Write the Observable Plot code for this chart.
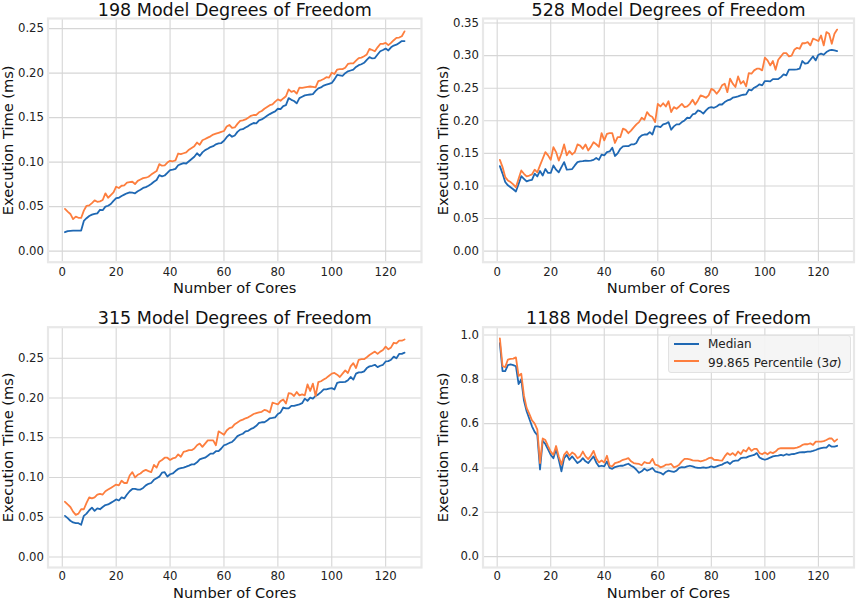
<!DOCTYPE html>
<html>
<head>
<meta charset="utf-8">
<script src="https://cdn.jsdelivr.net/npm/d3@7"></script>
<script src="https://cdn.jsdelivr.net/npm/@observablehq/plot@0.6"></script>
<style>
  body { margin: 0; background: #fff; }
  #fig { position: relative; width: 858px; height: 601px; overflow: hidden; background: #fff; font-family: "DejaVu Sans", sans-serif; }
  .panel { position: absolute; }
  .legend { position: absolute; left: 668px; top: 335px; width: 181px; height: 36px; background: rgba(244,244,244,0.9); border: 1px solid #e2e2e2; border-radius: 3px; }
  .legend .h { position: absolute; left: 5px; width: 25px; height: 2px; }
  .legend .t { position: absolute; left: 39px; font-size: 12px; line-height: 12px; color: #222; white-space: nowrap; }
</style>
</head>
<body>
<div id="fig"></div>
<script>
const cores = d3.range(1, 128);

const xTicks = [0, 20, 40, 60, 80, 100, 120];
const titles = ["198 Model Degrees of Freedom", "528 Model Degrees of Freedom", "315 Model Degrees of Freedom", "1188 Model Degrees of Freedom"];
const yTicks1 = [0, 0.05, 0.10, 0.15, 0.20, 0.25];
const yTicks2 = [0, 0.05, 0.10, 0.15, 0.20, 0.25, 0.30, 0.35];
const yTicks3 = [0, 0.05, 0.10, 0.15, 0.20, 0.25];
const yTicks4 = [0, 0.2, 0.4, 0.6, 0.8, 1.0];
const seriesNames = ["Median", "99.865 Percentile (3σ)"];

const p1Median = [
0.0213,0.0225,0.0228,0.0230,0.0230,0.0231,0.0232,0.0340,0.0370,0.0395,
0.0410,0.0420,0.0425,0.0465,0.0460,0.0500,0.0510,0.0530,0.0565,0.0597,
0.0600,0.0620,0.0635,0.0650,0.0660,0.0657,0.0650,0.0672,0.0690,0.0710,
0.0720,0.0735,0.0755,0.0780,0.0800,0.0854,0.0840,0.0850,0.0880,0.0910,
0.0915,0.0925,0.0965,0.0978,0.0990,0.0985,0.1010,0.1035,0.1060,0.1100,
0.1070,0.1110,0.1135,0.1150,0.1170,0.1180,0.1200,0.1210,0.1215,0.1240,
0.1280,0.1310,0.1285,0.1300,0.1340,0.1365,0.1370,0.1390,0.1405,0.1425,
0.1440,0.1435,0.1470,0.1480,0.1500,0.1520,0.1540,0.1556,0.1570,0.1600,
0.1595,0.1630,0.1640,0.1720,0.1700,0.1687,0.1660,0.1720,0.1735,0.1750,
0.1755,0.1760,0.1765,0.1800,0.1830,0.1840,0.1860,0.1870,0.1880,0.1890,
0.1930,0.1980,0.1975,0.1970,0.2000,0.2020,0.2030,0.2040,0.2070,0.2090,
0.2100,0.2116,0.2150,0.2180,0.2165,0.2170,0.2210,0.2246,0.2260,0.2276,
0.2255,0.2290,0.2310,0.2320,0.2340,0.2360,0.2360];
const p1Pct = [
0.0474,0.0445,0.0418,0.0360,0.0388,0.0375,0.0373,0.0455,0.0510,0.0515,
0.0540,0.0570,0.0555,0.0560,0.0575,0.0650,0.0600,0.0630,0.0660,0.0724,
0.0710,0.0735,0.0740,0.0770,0.0775,0.0780,0.0754,0.0790,0.0805,0.0820,
0.0825,0.0836,0.0860,0.0880,0.0900,0.0978,0.0960,0.0965,0.0995,0.1015,
0.1010,0.1020,0.1097,0.1090,0.1100,0.1110,0.1140,0.1160,0.1180,0.1220,
0.1195,0.1246,0.1260,0.1276,0.1290,0.1310,0.1320,0.1330,0.1340,0.1350,
0.1400,0.1418,0.1385,0.1390,0.1430,0.1463,0.1470,0.1480,0.1500,0.1520,
0.1530,0.1530,0.1560,0.1575,0.1600,0.1620,0.1640,0.1650,0.1680,0.1705,
0.1690,0.1716,0.1740,0.1817,0.1790,0.1800,0.1770,0.1836,0.1835,0.1840,
0.1845,0.1850,0.1845,0.1840,0.1910,0.1920,0.1935,0.1955,0.1950,0.2004,
0.1990,0.2040,0.2045,0.2045,0.2060,0.2104,0.2110,0.2110,0.2140,0.2170,
0.2175,0.2190,0.2210,0.2272,0.2260,0.2246,0.2290,0.2328,0.2330,0.2340,
0.2315,0.2340,0.2370,0.2396,0.2400,0.2414,0.2470];

const p2Median = [
0.1305,0.119,0.106,0.101,0.098,0.095,0.0916,0.103,0.115,0.111,
0.107,0.1085,0.1095,0.119,0.1146,0.123,0.116,0.126,0.120,0.120,
0.1315,0.125,0.121,0.129,0.1366,0.125,0.1254,0.126,0.1315,0.1366,
0.1377,0.138,0.139,0.1385,0.139,0.140,0.143,0.140,0.148,0.147,
0.152,0.153,0.1586,0.146,0.150,0.157,0.1607,0.161,0.161,0.1637,
0.1637,0.166,0.174,0.1776,0.179,0.179,0.1827,0.179,0.1914,0.1914,
0.1904,0.1945,0.1955,0.198,0.1863,0.1914,0.1945,0.1945,0.198,0.2006,
0.2047,0.2042,0.2098,0.211,0.216,0.2144,0.211,0.216,0.220,0.221,
0.220,0.222,0.225,0.225,0.2288,0.2313,0.2324,0.2354,0.2365,0.2375,
0.239,0.240,0.2405,0.2477,0.2467,0.2508,0.2528,0.256,0.2544,0.261,
0.261,0.2605,0.264,0.264,0.264,0.267,0.2712,0.2697,0.2784,0.2784,
0.2784,0.279,0.280,0.2917,0.2876,0.2886,0.2937,0.2988,0.2927,0.3014,
0.303,0.3014,0.3055,0.308,0.309,0.308,0.307];
const p2Pct = [
0.140,0.129,0.1136,0.1085,0.106,0.1024,0.098,0.111,0.1238,0.1187,
0.1146,0.116,0.1177,0.125,0.121,0.1315,0.1418,0.152,0.147,0.140,
0.1597,0.152,0.139,0.1494,0.1637,0.147,0.1535,0.1484,0.152,0.1637,
0.162,0.157,0.1637,0.1545,0.160,0.167,0.164,0.160,0.181,0.170,
0.180,0.181,0.181,0.166,0.175,0.175,0.188,0.186,0.181,0.185,
0.190,0.1945,0.198,0.2047,0.2016,0.2134,0.208,0.2057,0.198,0.226,
0.222,0.227,0.222,0.230,0.2134,0.221,0.2185,0.222,0.226,0.221,
0.222,0.226,0.2324,0.225,0.2313,0.239,0.2375,0.2354,0.239,0.249,
0.2467,0.2416,0.2467,0.2544,0.257,0.244,0.2646,0.257,0.2518,0.268,
0.257,0.261,0.2528,0.2733,0.2723,0.2774,0.280,0.280,0.2774,0.2968,
0.2927,0.285,0.2917,0.2784,0.2937,0.2988,0.304,0.304,0.2988,0.300,
0.309,0.312,0.3106,0.319,0.319,0.3208,0.3157,0.326,0.3244,0.3224,
0.331,0.3157,0.3362,0.3337,0.3183,0.3337,0.340];

const p3Median = [
0.0517,0.0488,0.0455,0.0434,0.0426,0.0424,0.0405,0.0517,0.0545,0.0587,
0.062,0.058,0.061,0.060,0.0628,0.0653,0.066,0.068,0.070,0.0723,
0.071,0.075,0.0736,0.0785,0.0826,0.0855,0.0855,0.0847,0.0847,0.0868,
0.090,0.092,0.093,0.097,0.099,0.101,0.106,0.1066,0.101,0.104,
0.105,0.108,0.1107,0.1116,0.1124,0.1136,0.1149,0.1165,0.1165,0.119,
0.1227,0.124,0.1248,0.1273,0.130,0.130,0.133,0.133,0.1364,0.1405,
0.1417,0.1434,0.1446,0.148,0.152,0.1537,0.155,0.158,0.1587,0.161,
0.1624,0.165,0.1686,0.1694,0.1694,0.1715,0.1744,0.1748,0.1756,0.1798,
0.1818,0.188,0.1868,0.1868,0.190,0.190,0.191,0.192,0.1934,0.1992,
0.1963,0.2004,0.1992,0.2025,0.2045,0.2074,0.2107,0.2107,0.2116,0.2124,
0.2107,0.219,0.2198,0.2198,0.2202,0.2223,0.2264,0.2231,0.2306,0.2322,
0.2322,0.2335,0.2376,0.2397,0.2405,0.2417,0.2388,0.2405,0.2417,0.2459,
0.2463,0.248,0.252,0.250,0.2554,0.2554,0.257];
const p3Pct = [
0.0694,0.066,0.0628,0.057,0.0529,0.0545,0.060,0.060,0.068,0.075,
0.0736,0.075,0.0785,0.0793,0.0785,0.0826,0.0847,0.0868,0.0888,0.091,
0.090,0.0959,0.093,0.093,0.1025,0.1066,0.100,0.1033,0.105,0.108,
0.1095,0.108,0.1066,0.1157,0.1124,0.1198,0.122,0.1248,0.1248,0.122,
0.124,0.1248,0.129,0.126,0.1322,0.133,0.1343,0.1343,0.1364,0.1405,
0.1426,0.1384,0.1426,0.1467,0.1467,0.1467,0.1405,0.158,0.156,0.1537,
0.159,0.162,0.163,0.167,0.169,0.1715,0.1727,0.1744,0.1756,0.1777,
0.1798,0.181,0.1818,0.1826,0.185,0.184,0.1818,0.194,0.193,0.192,
0.196,0.198,0.193,0.206,0.2054,0.2025,0.2074,0.2033,0.2045,0.2033,
0.217,0.2087,0.218,0.2025,0.2198,0.221,0.2231,0.2252,0.228,0.2306,
0.2314,0.2293,0.2264,0.2306,0.2347,0.2314,0.2397,0.2438,0.2376,0.248,
0.2488,0.2488,0.2512,0.254,0.2562,0.2583,0.2554,0.2583,0.2603,0.2645,
0.2612,0.2636,0.2694,0.2686,0.272,0.272,0.2736];

const p4Median = [
0.963,0.837,0.837,0.864,0.867,0.864,0.859,0.778,0.800,0.704,
0.656,0.622,0.588,0.563,0.548,0.393,0.523,0.508,0.484,0.459,
0.444,0.484,0.437,0.385,0.444,0.459,0.437,0.452,0.437,0.422,
0.430,0.444,0.430,0.422,0.437,0.452,0.425,0.407,0.410,0.407,
0.430,0.400,0.396,0.404,0.407,0.410,0.410,0.415,0.419,0.410,
0.404,0.392,0.378,0.385,0.397,0.388,0.393,0.400,0.385,0.381,
0.378,0.370,0.382,0.388,0.385,0.382,0.388,0.400,0.404,0.403,
0.407,0.410,0.407,0.403,0.400,0.400,0.403,0.400,0.403,0.407,
0.403,0.407,0.412,0.415,0.422,0.427,0.418,0.430,0.433,0.433,
0.444,0.447,0.447,0.452,0.456,0.459,0.467,0.447,0.441,0.437,
0.441,0.447,0.452,0.455,0.456,0.459,0.456,0.462,0.459,0.462,
0.463,0.467,0.470,0.471,0.471,0.474,0.474,0.477,0.481,0.486,
0.489,0.492,0.492,0.504,0.496,0.496,0.500];
const p4Pct = [
0.985,0.859,0.855,0.889,0.892,0.893,0.899,0.815,0.825,0.726,
0.671,0.644,0.615,0.600,0.573,0.422,0.533,0.526,0.499,0.474,
0.459,0.499,0.452,0.415,0.459,0.474,0.455,0.470,0.462,0.444,
0.452,0.474,0.452,0.440,0.455,0.477,0.444,0.425,0.434,0.425,
0.455,0.410,0.407,0.422,0.425,0.430,0.437,0.440,0.444,0.430,
0.422,0.420,0.418,0.412,0.427,0.422,0.422,0.441,0.415,0.412,
0.403,0.407,0.415,0.415,0.418,0.403,0.407,0.415,0.430,0.441,
0.441,0.439,0.434,0.433,0.433,0.430,0.433,0.437,0.444,0.447,
0.437,0.436,0.434,0.433,0.452,0.467,0.459,0.467,0.456,0.474,
0.462,0.481,0.474,0.492,0.477,0.486,0.486,0.467,0.462,0.470,
0.462,0.471,0.467,0.474,0.486,0.489,0.489,0.489,0.489,0.489,
0.489,0.492,0.496,0.504,0.507,0.507,0.511,0.504,0.519,0.519,
0.519,0.521,0.526,0.533,0.533,0.519,0.529];

const BLUE = "#1f68b3";
const ORANGE = "#fd7e3e";

const panels = [
  {title: titles[0], med: p1Median, pct: p1Pct, yDomain: [-0.0124, 0.2614], yTicks: yTicks1, fmt: ".2f", left: 0,   top: 0,   w: 429, h: 300, ml: 47.5, mr: 8,   mt: 18,   mb: 38.3, tp: 5, xl: 30.8},
  {title: titles[1], med: p2Median, pct: p2Pct, yDomain: [-0.0170, 0.3570], yTicks: yTicks2, fmt: ".2f", left: 429, top: 0,   w: 429, h: 300, ml: 53.5, mr: 4.5, mt: 18,   mb: 38.3, tp: 5, xl: 30.8},
  {title: titles[2], med: p3Median, pct: p3Pct, yDomain: [-0.0133, 0.2890], yTicks: yTicks3, fmt: ".2f", left: 0,   top: 300, w: 429, h: 301, ml: 47.5, mr: 8,   mt: 26.7, mb: 34,   tp: 4, xl: 30},
  {title: titles[3], med: p4Median, pct: p4Pct, yDomain: [-0.0490, 1.0350], yTicks: yTicks4, fmt: ".1f", left: 429, top: 300, w: 429, h: 301, ml: 53.5, mr: 4.5, mt: 26.7, mb: 34,   tp: 4, xl: 30}
];

const fig = document.getElementById("fig");

for (const p of panels) {
  const data = cores.map((c, i) => ({core: c, med: p.med[i], pct: p.pct[i]}));
  const chart = Plot.plot({
    width: p.w,
    height: p.h,
    marginLeft: p.ml,
    marginRight: p.mr,
    marginTop: p.mt,
    marginBottom: p.mb,
    style: {fontFamily: "DejaVu Sans", fontSize: "11.7px", color: "#222", background: "transparent", overflow: "visible"},
    x: {domain: [-5.3, 133.3]},
    y: {domain: p.yDomain},
    marks: [
      Plot.gridX(xTicks, {stroke: "#d6d6d6", strokeOpacity: 1, strokeWidth: 1.1}),
      Plot.gridY(p.yTicks, {stroke: "#d6d6d6", strokeOpacity: 1, strokeWidth: 1.1}),
      Plot.frame({stroke: "#e8e8e8", strokeWidth: 2.2}),
      Plot.axisX(xTicks, {tickSize: 0, tickPadding: p.tp, label: null, fontSize: 11.7}),
      Plot.axisY(p.yTicks, {tickSize: 0, tickPadding: 4, label: null, fontSize: 11.7, tickFormat: d3.format(p.fmt)}),
      Plot.line(data, {x: "core", y: "med", stroke: BLUE, strokeWidth: 1.8}),
      Plot.line(data, {x: "core", y: "pct", stroke: ORANGE, strokeWidth: 1.8}),
      Plot.text([p.title], {text: d => d, frameAnchor: "top", textAnchor: "middle", lineAnchor: "bottom", dy: -3, fontSize: 17.5, fill: "#111"}),
      Plot.text(["Number of Cores"], {text: d => d, frameAnchor: "bottom", textAnchor: "middle", lineAnchor: "bottom", dy: p.xl, fontSize: 14.6, fill: "#111"}),
      Plot.text(["Execution Time (ms)"], {text: d => d, frameAnchor: "left", textAnchor: "middle", lineAnchor: "bottom", rotate: -90, dx: -35, fontSize: 14.6, fill: "#111"})
    ]
  });
  const div = document.createElement("div");
  div.className = "panel";
  div.style.left = p.left + "px";
  div.style.top = p.top + "px";
  div.appendChild(chart);
  fig.appendChild(div);
}

// legend (panel 4)
const legend = document.createElement("div");
legend.className = "legend";
legend.innerHTML =
  `<div class="h" style="top:7.3px;background:${BLUE}"></div>` +
  `<div class="t" style="top:2.2px">${seriesNames[0]}</div>` +
  `<div class="h" style="top:24px;background:${ORANGE}"></div>` +
  `<div class="t" style="top:20.6px">99.865 Percentile (3<span style="font-style:italic">σ</span>)</div>`;
fig.appendChild(legend);
</script>
</body>
</html>
